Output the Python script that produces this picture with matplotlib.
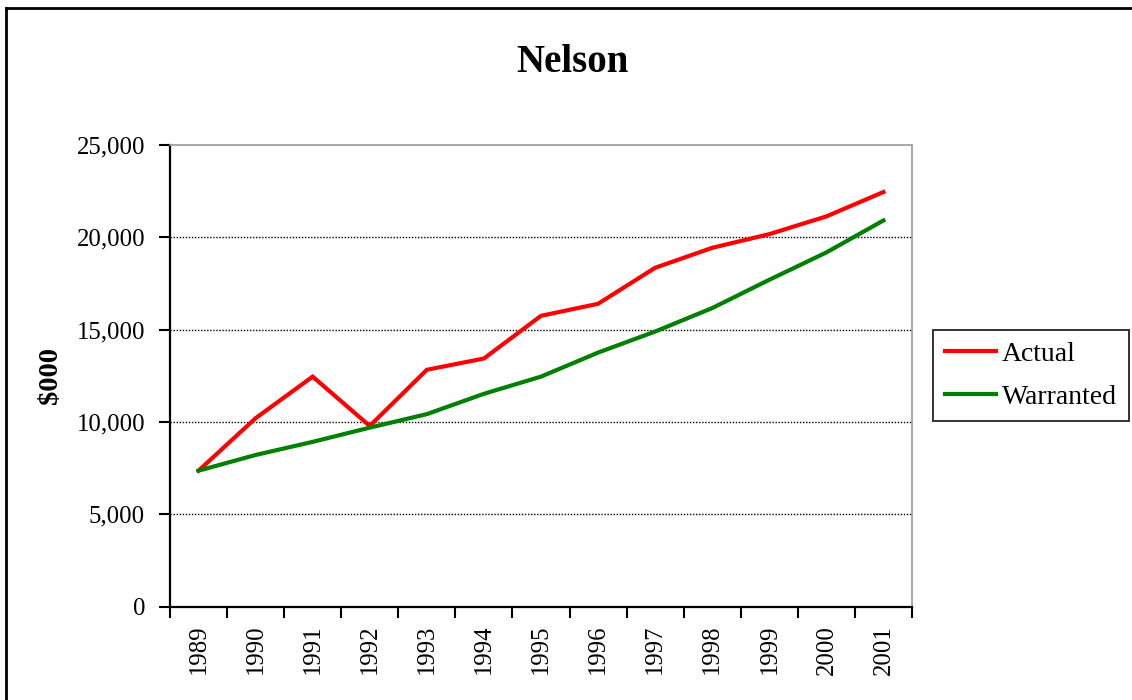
import numpy as np
import matplotlib.pyplot as plt
from matplotlib.lines import Line2D

# Nelson: actual vs warranted ($000)
years = ['1989', '1990', '1991', '1992', '1993', '1994', '1995',
         '1996', '1997', '1998', '1999', '2000', '2001']
actual = [7360, 10200, 12450, 9780, 12820, 13430, 15740,
          16390, 18340, 19420, 20160, 21120, 22440]
warranted = [7360, 8210, 8920, 9690, 10420, 11520, 12450,
             13750, 14890, 16160, 17690, 19170, 20900]

W, H = 1132, 700
plt.rcParams['font.family'] = ['Liberation Serif', 'DejaVu Serif']

fig = plt.figure(figsize=(W / 100, H / 100), dpi=100)
fig.patch.set_facecolor('white')

# plot area in pixel units -> figure fractions
left, right, top, bottom = 170, 912, 144.7, 606.7
ax = fig.add_axes([left / W, 1 - bottom / H, (right - left) / W, (bottom - top) / H])

x = np.arange(len(years))
ax.plot(x, actual, color='#ff0000', lw=3.0, label='Actual', solid_joinstyle='miter', zorder=3)
ax.plot(x, warranted, color='#008000', lw=3.0, label='Warranted', solid_joinstyle='miter', zorder=3)

ax.set_xlim(-0.5, len(years) - 0.5)
ax.set_ylim(0, 25000)

# y axis
yt = np.arange(0, 25001, 5000)
ax.set_yticks(yt)
ax.set_yticklabels([f'{v:,}' for v in yt])
ax.tick_params(axis='y', direction='out', length=8, width=1.5, pad=10, labelsize=17.8)
for v in yt[1:-1]:
    ax.axhline(v, color='black', lw=1.0, ls=(0, (1, 1.2)), zorder=1)

# x axis: tick marks between categories, labels at the centres
ax.set_xticks(np.arange(-0.5, len(years), 1.0))
ax.set_xticklabels([])
ax.set_xticks(x, minor=True)
ax.set_xticklabels(years, minor=True, rotation=90)
ax.tick_params(axis='x', which='major', direction='out', length=8, width=1.5)
ax.tick_params(axis='x', which='minor', length=0, pad=13, labelsize=17.8)

for s in ['left', 'bottom']:
    ax.spines[s].set_color('black')
    ax.spines[s].set_linewidth(1.6)
for s in ['top', 'right']:
    ax.spines[s].set_color('#999999')
    ax.spines[s].set_linewidth(1.2)

leg = ax.legend(loc='upper left', bbox_to_anchor=(933 / W, 1 - 330 / H),
                bbox_transform=fig.transFigure, borderaxespad=0,
                fontsize=20, frameon=True, fancybox=False, shadow=False,
                handlelength=1.85, handletextpad=0.22, labelspacing=0.62,
                borderpad=0.42)
leg.get_frame().set_edgecolor('black')
leg.get_frame().set_linewidth(1.4)

fig.text(572 / W, 1 - 72 / H, 'Nelson', ha='center', va='baseline',
         fontsize=28, fontweight='bold')
fig.text(51 / W, 1 - 375 / H, '$000', ha='center', va='center',
         rotation=90, fontsize=20.5, fontweight='bold')

# chart frame (top and left edges)
fig.add_artist(Line2D([6 / W, 1.01], [1 - 8 / H, 1 - 8 / H], color='black', lw=2,
                      transform=fig.transFigure))
fig.add_artist(Line2D([6 / W, 6 / W], [-0.01, 1 - 8 / H], color='black', lw=2,
                      transform=fig.transFigure))

fig.savefig('out.png', dpi=100)
